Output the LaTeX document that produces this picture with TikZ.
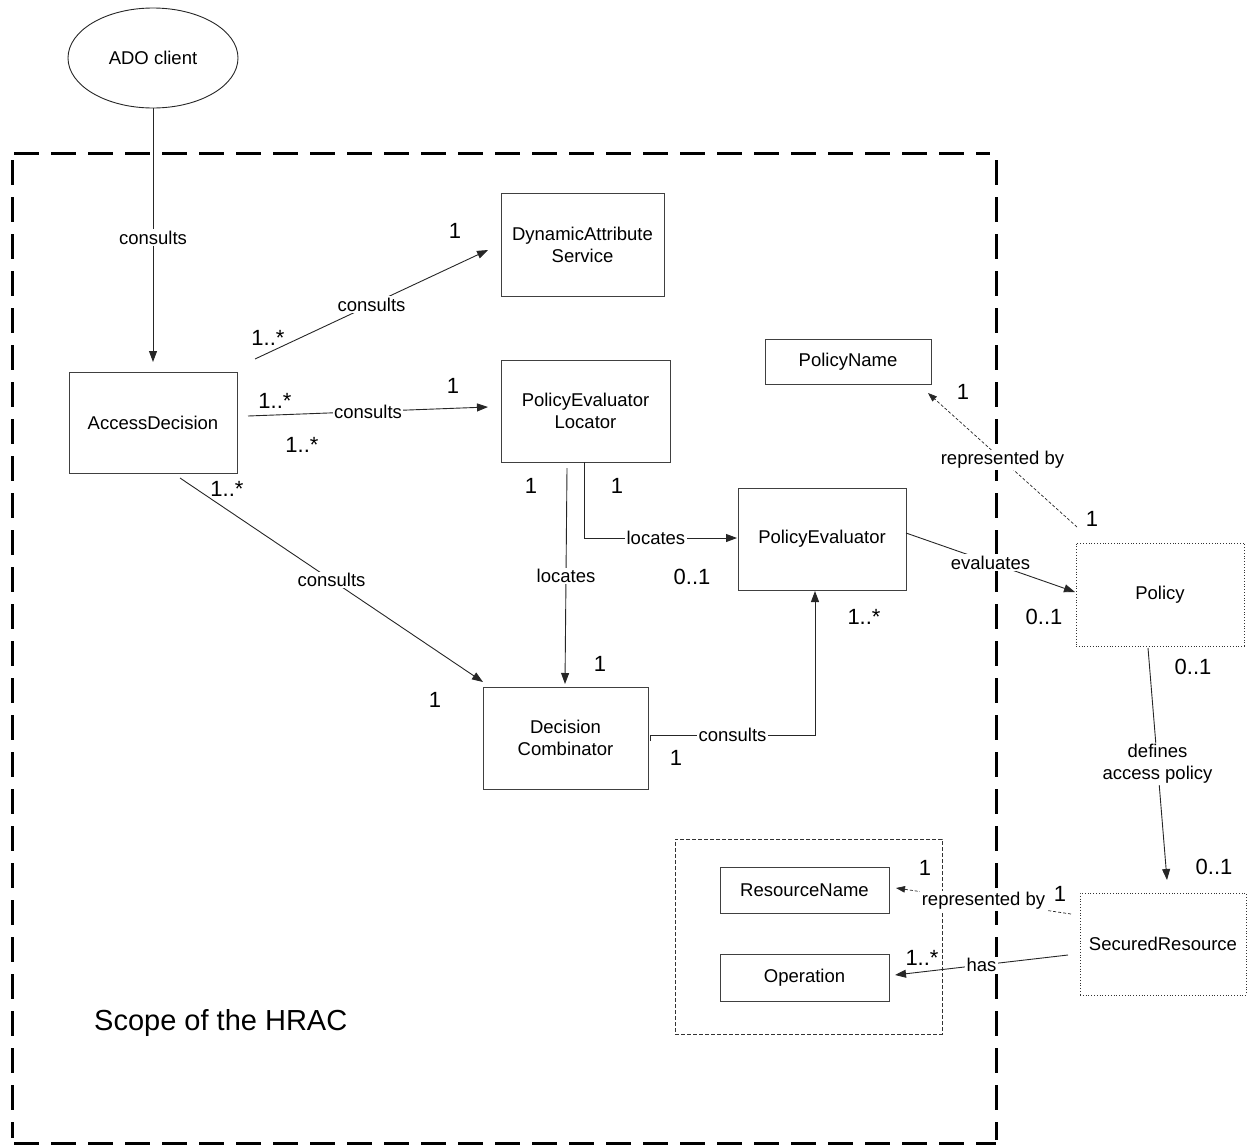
\documentclass[tikz,border=0pt]{standalone}
\usepackage{fontspec}
\setmainfont{Liberation Sans}
\usetikzlibrary{arrows.meta,shapes.geometric}
\begin{document}
\begin{tikzpicture}[x=1pt,y=-1pt,
 box/.style={draw=black!75, line width=1pt, align=center, inner sep=0pt, font=\fontsize{18.5}{22}\selectfont},
 dotbox/.style={box, draw=black!80, line width=0.8pt, dotted},
 lbl/.style={fill=white, inner sep=1.5pt, font=\fontsize{18.5}{22}\selectfont},
 mult/.style={inner sep=0pt, font=\fontsize{22}{26}\selectfont},
 conn/.style={draw=black!85, line width=0.9pt},
 arr/.style={conn, -{Triangle[length=11pt,width=8pt]}},
 darr/.style={draw=black!85, line width=0.7pt, dash pattern=on 3pt off 2pt, -{Triangle[length=9pt,width=6.5pt]}},
 scopeline/.style={line width=3pt, dash pattern=on 25pt off 12pt},
]
\useasboundingbox (0,0) rectangle (1247,1146);

% scope boundary (four separate dashed sides)
\coordinate (bTL) at (14,153);
\coordinate (bTR) at (990,153);
\coordinate (bRT) at (996,160);
\coordinate (bRB) at (996,1140);
\coordinate (bLT) at (12,160);
\coordinate (bLB) at (12,1138);
\coordinate (bBL) at (14,1143);
\coordinate (bBR) at (996,1143);
\draw[scopeline] (bTL) -- (bTR);
\draw[scopeline] (bRT) -- (bRB);
\draw[scopeline] (bLT) -- (bLB);
\draw[scopeline] (bBL) -- (bBR);
\node[anchor=west, inner sep=0pt, font=\fontsize{29}{34}\selectfont] (scope) at (94,1023) {Scope of the HRAC};

% resource group
\node[draw=black!80, line width=0.8pt, dash pattern=on 4pt off 2pt, minimum width=267pt, minimum height=195pt] (grp) at (808.5,936.5) {};

% nodes
\node[draw=black!85, line width=0.9pt, ellipse, minimum width=170pt, minimum height=100pt, inner sep=0pt, font=\fontsize{18.5}{22}\selectfont] (ado) at (153,58) {ADO client};
\node[box, minimum width=163pt, minimum height=103pt] (das) at (582.5,244.5) {DynamicAttribute\\Service};
\node[box, minimum width=168pt, minimum height=101pt] (ad) at (153,422.5) {AccessDecision};
\node[box, minimum width=169pt, minimum height=102pt] (pel) at (585.5,411) {PolicyEvaluator\\Locator};
\node[box, minimum width=166pt, minimum height=45pt] (pn) at (848,361.5) {PolicyName};
\node[box, minimum width=168pt, minimum height=102pt] (pe) at (822,539) {PolicyEvaluator};
\node[dotbox, minimum width=168pt, minimum height=103pt] (pol) at (1160,594.5) {Policy};
\node[box, minimum width=165pt, minimum height=102pt] (dc) at (565.5,738) {Decision\\Combinator};
\node[dotbox, minimum width=166pt, minimum height=102pt] (sr) at (1163,944) {SecuredResource};
\node[box, minimum width=169pt, minimum height=46pt] (rn) at (804.5,890) {ResourceName};
\node[box, minimum width=169pt, minimum height=47pt] (op) at (804.5,977.5) {Operation};

% free ends of connectors
\coordinate (adoEnd) at (153,362);
\coordinate (dasS) at (255,359);
\coordinate (dasE) at (488,250);
\coordinate (pelS) at (248,416);
\coordinate (pelE) at (488,407);
\coordinate (dcS) at (180,478);
\coordinate (dcE) at (483,682);
\coordinate (locS) at (567,468);
\coordinate (locE) at (565,684);
\coordinate (loc2S) at (584,462);
\coordinate (loc2K) at (584,538);
\coordinate (loc2E) at (737,538);
\coordinate (conS) at (650,741);
\coordinate (conA) at (650,735);
\coordinate (conK) at (815,735);
\coordinate (conE) at (815,591);
\coordinate (evS) at (906,533);
\coordinate (evE) at (1075,592);
\coordinate (repS) at (1077,527);
\coordinate (repE) at (928,393);
\coordinate (defS) at (1148,648);
\coordinate (defE) at (1167,880);
\coordinate (rep2S) at (1071,914);
\coordinate (rep2E) at (896,888);
\coordinate (hasS) at (1068,955);
\coordinate (hasE) at (895,975);

% connectors
\draw[arr] (ado.south) -- node[lbl, pos=0.51]{consults} (adoEnd);
\draw[arr] (dasS) -- node[lbl]{consults} (dasE);
\draw[arr] (pelS) -- node[lbl]{consults} (pelE);
\draw[arr] (dcS) -- node[lbl]{consults} (dcE);
\draw[arr] (locS) -- node[lbl]{locates} (locE);
\draw[arr] (loc2S) -- (loc2K) -- node[lbl, pos=0.47]{locates} (loc2E);
\draw[arr] (conS) -- (conA) -- node[lbl]{consults} (conK) -- (conE);
\draw[arr] (evS) -- node[lbl]{evaluates} (evE);
\draw[darr] (repS) -- node[lbl]{represented by} (repE);
\draw[arr] (defS) -- node[lbl, align=center]{defines\\access policy} (defE);
\draw[darr] (rep2S) -- node[lbl]{represented by} (rep2E);
\draw[arr] (hasS) -- node[lbl]{has} (hasE);

% multiplicities
\node[mult] (m1) at (455,231) {1};
\node[mult] (m2) at (268,338) {1..*};
\node[mult] (m3) at (275,401) {1..*};
\node[mult] (m4) at (453,386) {1};
\node[mult] (m5) at (302,445) {1..*};
\node[mult] (m6) at (227,489) {1..*};
\node[mult] (m7) at (531,486) {1};
\node[mult] (m8) at (617,486) {1};
\node[mult] (m9) at (692,577) {0..1};
\node[mult] (m10) at (600,664) {1};
\node[mult] (m11) at (435,700) {1};
\node[mult] (m12) at (676,758) {1};
\node[mult] (m13) at (864,617) {1..*};
\node[mult] (m14) at (963,392) {1};
\node[mult] (m15) at (1092,519) {1};
\node[mult] (m16) at (1044,617) {0..1};
\node[mult] (m17) at (1193,667) {0..1};
\node[mult] (m18) at (1214,867) {0..1};
\node[mult] (m19) at (925,868) {1};
\node[mult] (m20) at (1060,894) {1};
\node[mult] (m21) at (922,958) {1..*};
\end{tikzpicture}
\end{document}
